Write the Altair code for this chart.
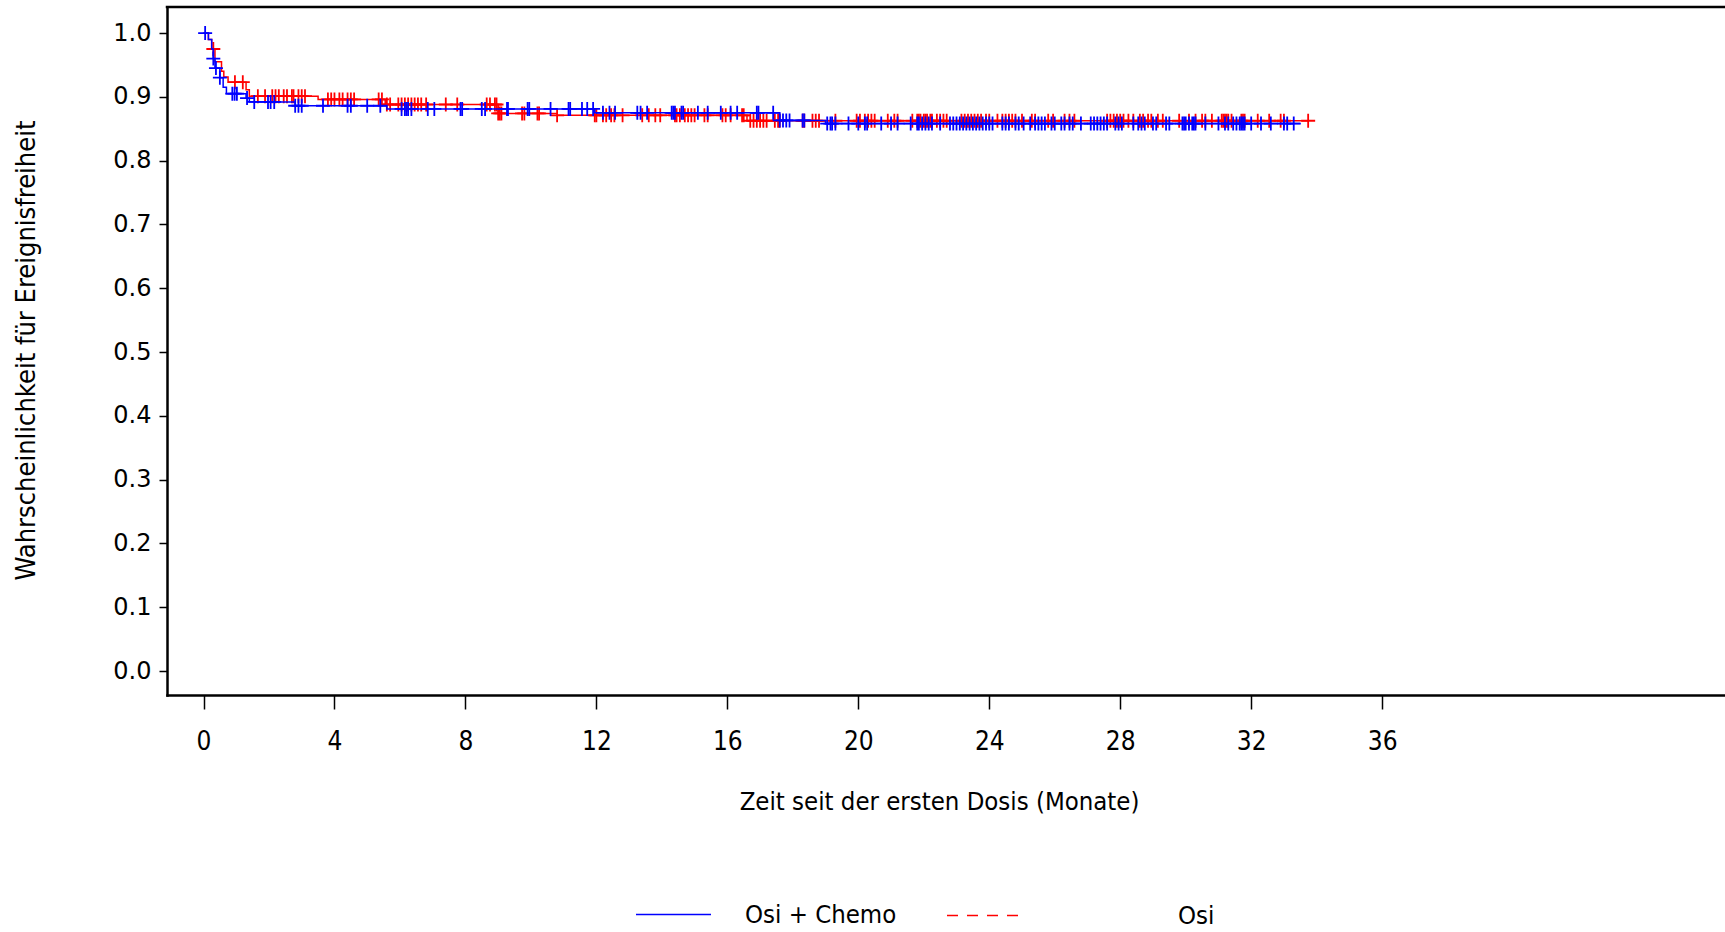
import altair as alt
import pandas as pd
import numpy as np

COND = "DejaVu Sans Condensed, Liberation Sans Narrow, DejaVu Sans, sans-serif"

groups = ["Osi + Chemo", "Osi"]
colors = ["#0000ff", "#ff0000"]

# Kaplan-Meier steps (time in months, survival probability)
chemo_step_t = [0, 0.15, 0.25, 0.3, 0.35, 0.5, 0.6, 0.7, 1.3, 1.4, 2.8, 5.6, 11.95, 17.6, 19.0, 33.5]
chemo_step_s = [1.0, 0.99, 0.975, 0.96, 0.945, 0.93, 0.915, 0.905, 0.898, 0.892, 0.886, 0.881, 0.875, 0.863, 0.858, 0.858]

osi_step_t = [0, 0.15, 0.25, 0.35, 0.55, 0.62, 0.75, 1.3, 1.4, 3.5, 5.55, 9.0, 10.8, 16.6, 33.74]
osi_step_s = [1.0, 0.99, 0.975, 0.955, 0.94, 0.931, 0.923, 0.911, 0.901, 0.896, 0.888, 0.874, 0.871, 0.8625, 0.8625]

# censoring times
chemo_cens = [0.05, 0.3, 0.38, 0.5, 0.88, 0.95, 1.02, 1.33, 1.55, 1.97, 2.05, 2.16, 2.8, 2.9, 3.0, 3.65, 4.4, 4.5, 5.0, 5.4,
              6.05, 6.15, 6.2, 6.25, 6.35, 6.85, 7.05, 7.85, 7.9, 8.5, 8.6, 9.27, 9.3, 9.9, 9.95, 10.6, 11.15, 11.2,
              11.56, 11.72, 11.9, 12.2, 12.4, 12.57, 13.25, 13.35, 13.55, 14.3, 14.35, 14.4, 14.6, 14.65, 15.1, 15.4, 15.8,
              16.1, 16.3, 16.9, 16.95, 17.4, 17.6, 17.7, 17.8, 17.9, 18.3, 18.35, 19.05, 19.15, 19.2, 19.3, 19.7, 20.0, 20.2,
              20.27, 20.7, 21.0, 21.2, 21.6, 21.8, 21.85, 21.95, 22.05, 22.15, 22.25, 22.5, 22.8, 22.9,
              23.0, 23.1, 23.2, 23.3, 23.4, 23.5, 23.6, 23.7, 23.8, 23.9, 24.0, 24.1, 24.4, 24.5, 24.6, 24.8, 24.9, 25.05,
              25.25, 25.4, 25.5, 25.6, 25.7, 25.9, 26.0, 26.2, 26.3, 26.45, 26.55, 26.8, 27.1, 27.2, 27.3, 27.4, 27.5, 27.6,
              27.85, 27.95, 28.05, 28.4, 28.55, 28.65, 28.75, 29.0, 29.1, 29.4, 29.5, 29.9, 29.95, 30.0, 30.1, 30.2, 30.25,
              30.3, 30.6, 31.0, 31.2, 31.3, 31.45, 31.55, 31.65, 31.7, 31.75, 31.8, 32.0, 32.3, 32.6, 33.0, 33.1, 33.3]
osi_cens = [0.3, 0.96, 1.2, 1.66, 1.88, 2.1, 2.2, 2.3, 2.45, 2.55, 2.7, 2.75, 2.9, 3.0, 3.1, 3.8, 3.9, 4.0, 4.15, 4.25, 4.4,
            4.5, 4.6, 5.35, 5.45, 5.6, 5.7, 5.95, 6.05, 6.15, 6.25, 6.35, 6.45, 6.55, 6.65, 6.8, 7.4, 7.75, 8.65, 8.75, 8.9,
            8.95, 9.0, 9.05, 9.1, 9.73, 9.8, 10.2, 10.25, 10.8, 11.95, 12.0, 12.2, 12.3, 12.45, 12.55, 12.8, 13.4, 13.6, 13.8,
            13.95, 14.4, 14.45, 14.55, 14.7, 14.8, 14.9, 15.0, 15.3, 15.4, 15.85, 15.95, 16.1, 16.45, 16.5, 16.7, 16.8, 16.9,
            17.0, 17.1, 17.2, 17.45, 17.55, 17.6, 18.3, 18.35, 18.6, 18.7, 18.8, 19.3, 19.95, 20.05, 20.2, 20.3, 20.4, 20.5,
            20.9, 21.1, 21.2, 21.65, 21.8, 21.85, 21.9, 22.0, 22.05, 22.1, 22.2, 22.25, 22.4, 22.5, 22.6, 22.7,
            23.15, 23.25, 23.35, 23.45, 23.55, 23.65, 23.75, 23.9, 24.0, 24.25, 24.4, 24.5, 24.6, 24.7, 24.8, 25.0, 25.3,
            25.4, 25.8, 25.95, 26.3, 26.45, 26.6, 27.6, 27.7, 27.8, 27.9, 28.0, 28.1, 28.25, 28.4, 28.6, 28.7,
            28.85, 28.95, 29.15, 29.3, 29.8, 30.1, 30.3, 30.5, 30.6, 30.8, 31.1, 31.15, 31.2, 31.25, 31.3, 31.4, 31.7,
            31.75, 31.8, 32.2, 32.55, 32.9, 33.0, 33.74]

x_ticks = [0, 4, 8, 12, 16, 20, 24, 28, 32, 36]
y_ticks = [round(i * 0.1, 1) for i in range(11)]


def surv_at(times, st, ss):
    idx = np.searchsorted(np.array(st), np.array(times), side="right") - 1
    return [ss[i] for i in idx]


steps_chemo = pd.DataFrame({"t": chemo_step_t, "s": chemo_step_s, "group": groups[0]})
steps_osi = pd.DataFrame({"t": osi_step_t, "s": osi_step_s, "group": groups[1]})
cens_chemo = pd.DataFrame({"t": chemo_cens, "s": surv_at(chemo_cens, chemo_step_t, chemo_step_s)})
cens_osi = pd.DataFrame({"t": osi_cens, "s": surv_at(osi_cens, osi_step_t, osi_step_s)})

W = 1558
H = 688
xscale = alt.Scale(domain=[-1.115, -1.115 + W / 32.74], nice=False, zero=False)
yscale = alt.Scale(domain=[-0.0376, 1.0408], nice=False, zero=False)

xenc = alt.X("t:Q", scale=xscale,
             axis=alt.Axis(values=x_ticks, title="Zeit seit der ersten Dosis (Monate)", grid=False,
                           domain=True, domainColor="black", domainWidth=2.5, domainCap="square",
                           tickSize=14, tickWidth=1.5, tickColor="black", labelFont=COND, labelFontSize=26,
                           labelColor="black", labelPadding=19, titleFont=COND, titleFontSize=25.5,
                           titleFontWeight="normal", titleColor="black", titleX=772, titleY=106,
                           titleBaseline="middle", titleAlign="center"))
yenc = alt.Y("s:Q", scale=yscale,
             axis=alt.Axis(values=y_ticks, format=".1f", title="Wahrscheinlichkeit für Ereignisfreiheit", grid=False,
                           domain=True, domainColor="black", domainWidth=2.5, domainCap="square",
                           tickSize=8, tickWidth=1.5, tickColor="black", labelFont="DejaVu Sans",
                           labelFontSize=24, labelColor="black", labelPadding=8, titleFont=COND, titleFontSize=27,
                           titleFontWeight="normal", titleColor="black", titleX=-141, titleY=343,
                           titleBaseline="middle", titleAlign="center", titleAngle=-90))

plus = "M-1,0L1,0M0,-1L0,1"

line_osi = alt.Chart(steps_osi).mark_line(interpolate="step-after", strokeWidth=1.5).encode(
    x=xenc, y=yenc,
    color=alt.Color("group:N", scale=alt.Scale(domain=[groups[1]], range=[colors[1]]),
                    legend=alt.Legend(orient="none", legendX=779, legendY=869, title=None, symbolType="stroke",
                                      symbolSize=5929, symbolStrokeWidth=1.5, symbolDash=[11, 9], labelFont=COND,
                                      labelFontSize=25.5, labelColor="black", labelOffset=153, padding=0))
)
cens_osi_l = alt.Chart(cens_osi).mark_point(shape=plus, size=196, filled=False, strokeWidth=1.8,
                                             color=colors[1], opacity=1).encode(x="t:Q", y="s:Q")
line_chemo = alt.Chart(steps_chemo).mark_line(interpolate="step-after", strokeWidth=1.5).encode(
    x="t:Q", y="s:Q",
    color=alt.Color("group:N", scale=alt.Scale(domain=[groups[0]], range=[colors[0]]),
                    legend=alt.Legend(orient="none", legendX=468, legendY=869, title=None, symbolType="stroke",
                                      symbolSize=5625, symbolStrokeWidth=1.5, labelFont=COND,
                                      labelFontSize=25.5, labelColor="black", labelOffset=33, padding=0))
)
cens_chemo_l = alt.Chart(cens_chemo).mark_point(shape=plus, size=196, filled=False, strokeWidth=1.8,
                                                 color=colors[0], opacity=1).encode(x="t:Q", y="s:Q")

top_frame = alt.Chart(pd.DataFrame({"edge": ["top"]})).mark_rule(color="black", strokeWidth=2.5).encode(
    y=alt.value(0), x=alt.value(-1.25), x2=alt.value(W + 2)
)

chart = alt.layer(line_osi, cens_osi_l, line_chemo, cens_chemo_l, top_frame).resolve_scale(
    color="independent"
).properties(
    width=W, height=H,
    autosize=alt.AutoSizeParams(type="none"),
    padding={"left": 167, "top": 7, "right": 0, "bottom": 237},
    background="white",
).configure_view(strokeWidth=0)

chart.save("out.html", embed_options={"renderer": "svg", "actions": False})
